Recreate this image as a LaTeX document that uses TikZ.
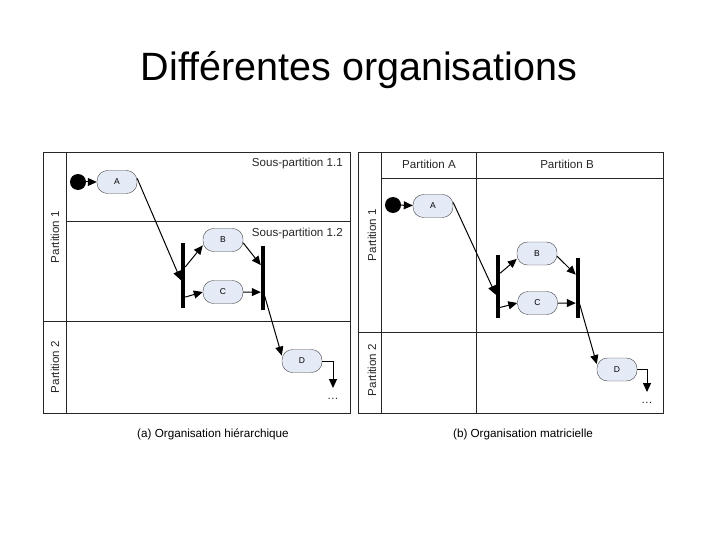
\documentclass[tikz,border=0pt]{standalone}
\usepackage{fontspec}
\setmainfont{Liberation Sans}
\usetikzlibrary{arrows.meta,calc}
\definecolor{actfill}{RGB}{228,234,246}
\definecolor{actline}{RGB}{70,70,70}
\tikzset{
  act/.style={draw=actline,fill=actfill,rounded corners=10.5pt,minimum width=40pt,minimum height=23pt,inner sep=0pt,font=\fontsize{8.5}{8.5}\selectfont},
  bar/.style={fill=black,inner sep=0pt,minimum width=4pt},
  startdot/.style={circle,fill=black,inner sep=0pt,minimum size=16pt},
  flow/.style={-{Triangle[length=9pt,width=8pt]},line width=1pt},
  lbl/.style={font=\fontsize{11.6}{13}\selectfont,text=black!85,inner sep=0pt},
  capt/.style={font=\fontsize{11.7}{13}\selectfont,inner sep=0pt,anchor=base},
  grid/.style={draw=black!85,line width=0.8pt}
}
\begin{document}
\begin{tikzpicture}[x=1pt,y=-1pt]
\useasboundingbox (0,0) rectangle (720,540);
\node [anchor=base,inner sep=0pt] (title) at (359,81) {\fontsize{39.5}{40}\selectfont Différentes organisations};

\draw [grid] (43,152) rectangle (350,413);
\draw [grid] (66,152) -- (66,413);
\draw [grid] (66,221) -- (350,221);
\draw [grid] (43,321) -- (350,321);
\node [lbl,anchor=east] (spa) at (343,164) {Sous-partition 1.1};
\node [lbl,anchor=east] (spb) at (343,234) {Sous-partition 1.2};
\node [lbl,rotate=90] (pa1) at (55,237) {Partition 1};
\node [lbl,rotate=90] (pa2) at (55,367) {Partition 2};
\node [startdot] (ia) at (78,182) {};
\node [act] (Aa) at (117,182) {A};
\node [bar,minimum height=65pt] (fa) at (183,275.5) {};
\node [act] (Ba) at (223,240) {B};
\node [act] (Ca) at (223,292) {C};
\node [bar,minimum height=64pt] (ja) at (263,278) {};
\node [act] (Da) at (302,361) {D};
\coordinate (ea) at (333,388);
\node [lbl,anchor=base] (dotsa) at (333,399) {\dots};
\draw [flow] (ia) -- (Aa);
\draw [flow] (Aa.10) -- ($(fa.north west)!0.57!(fa.south west)$);
\draw [flow] ($(fa.north east)!0.37!(fa.south east)$) -- (Ba.195);
\draw [flow] ($(fa.north east)!0.83!(fa.south east)$) -- (Ca.west);
\draw [flow] (Ba.-8) -- ($(ja.north west)!0.30!(ja.south west)$);
\draw [flow] (Ca.east) -- ($(ja.north west)!0.72!(ja.south west)$);
\draw [flow] ($(ja.north)!0.69!(ja.south)$) -- (Da.165);
\draw [flow] (Da.east) -| (ea);
\node [capt] (capa) at (213,437) {(a) Organisation hiérarchique};

\draw [grid] (358,152) rectangle (663,413);
\draw [grid] (381,152) -- (381,413);
\draw [grid] (476,152) -- (476,413);
\draw [grid] (381,178) -- (663,178);
\draw [grid] (358,332) -- (663,332);
\node [lbl] (pcA) at (429,164) {Partition A};
\node [lbl] (pcB) at (567,164) {Partition B};
\node [lbl,rotate=90] (pb1) at (372,235) {Partition 1};
\node [lbl,rotate=90] (pb2) at (372,370) {Partition 2};
\node [startdot] (ib) at (393,205) {};
\node [act] (Ab) at (433,206) {A};
\node [bar,minimum height=63pt] (fb) at (498,286.5) {};
\node [act] (Bb) at (537,253.5) {B};
\node [act] (Cb) at (537.5,303) {C};
\node [bar,minimum height=60pt] (jb) at (578,288) {};
\node [act] (Db) at (617,369.5) {D};
\coordinate (eb) at (647,392);
\node [lbl,anchor=base] (dotsb) at (647,403) {\dots};
\draw [flow] (ib) -- (Ab);
\draw [flow] (Ab.10) -- ($(fb.north west)!0.63!(fb.south west)$);
\draw [flow] ($(fb.north east)!0.29!(fb.south east)$) -- (Bb.195);
\draw [flow] ($(fb.north east)!0.83!(fb.south east)$) -- (Cb.west);
\draw [flow] (Bb.-8) -- ($(jb.north west)!0.28!(jb.south west)$);
\draw [flow] (Cb.east) -- ($(jb.north west)!0.75!(jb.south west)$);
\draw [flow] ($(jb.north)!0.67!(jb.south)$) -- (Db.165);
\draw [flow] (Db.east) -| (eb);
\node [capt] (capb) at (523,437) {(b) Organisation matricielle};
\end{tikzpicture}
\end{document}
